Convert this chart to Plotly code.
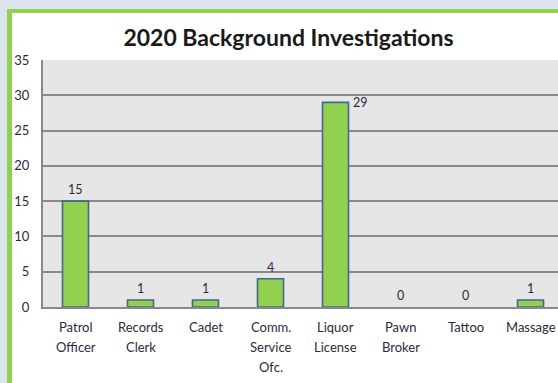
import plotly.graph_objects as go

# Data
categories = ["Patrol Officer", "Records Clerk", "Cadet", "Comm. Service Ofc.",
              "Liquor License", "Pawn Broker", "Tattoo", "Massage"]
category_lines = [["Patrol", "Officer"], ["Records", "Clerk"], ["Cadet"],
                  ["Comm.", "Service", "Ofc."], ["Liquor", "License"],
                  ["Pawn", "Broker"], ["Tattoo"], ["Massage"]]
counts = [15, 1, 1, 4, 29, 0, 0, 1]
y_ticks = [0, 5, 10, 15, 20, 25, 30, 35]

W, H = 558, 383
ML, MR, MT, MB = 43, 0, 60, 76
PW, PH = W - ML - MR, H - MT - MB
CAT_PX = 65  # pixel width of one category slot

BAR_GREEN = "#92d050"
BAR_EDGE = "#45668e"
FONT = "Lato"
TEXT = "#2b2b3a"


def px_x(px):
    return (px - ML) / PW


def px_y(py):
    return (H - MB - py) / PH


x_idx = list(range(len(categories)))

fig = go.Figure()
fig.add_trace(go.Bar(
    x=x_idx, y=counts,
    marker=dict(color=BAR_GREEN,
                line=dict(color=BAR_EDGE, width=[1.6 if v > 0 else 0 for v in counts])),
    hoverinfo="skip",
))

annotations = []
# value labels
for i, v in enumerate(counts):
    if v > 25:
        annotations.append(dict(x=i, y=v, xref="x", yref="y", text=str(v),
                                showarrow=False, xanchor="left", yanchor="middle",
                                xshift=15, font=dict(family=FONT, size=12.5, color=TEXT)))
    else:
        annotations.append(dict(x=i, y=v, xref="x", yref="y", text=str(v),
                                showarrow=False, xanchor="center", yanchor="bottom",
                                yshift=2, font=dict(family=FONT, size=12.5, color=TEXT)))
# category labels, one line each
for i, lines in enumerate(category_lines):
    for k, line in enumerate(lines):
        annotations.append(dict(x=i, y=0, xref="x", yref="y", text=line,
                                showarrow=False, xanchor="center", yanchor="middle",
                                yshift=-(20 + 20 * k),
                                font=dict(family=FONT, size=13, color=TEXT)))

shapes = [
    # outer light frame
    dict(type="rect", xref="paper", yref="paper", x0=px_x(0), x1=px_x(W),
         y0=px_y(9), y1=px_y(0), fillcolor="#dce4ee", line_width=0, layer="below"),
    dict(type="rect", xref="paper", yref="paper", x0=px_x(0), x1=px_x(7),
         y0=px_y(H), y1=px_y(0), fillcolor="#dce4ee", line_width=0, layer="below"),
    # green chart border
    dict(type="rect", xref="paper", yref="paper", x0=px_x(7), x1=px_x(W),
         y0=px_y(13), y1=px_y(9), fillcolor=BAR_GREEN, line_width=0, layer="below"),
    dict(type="rect", xref="paper", yref="paper", x0=px_x(7), x1=px_x(12),
         y0=px_y(H), y1=px_y(9), fillcolor=BAR_GREEN, line_width=0, layer="below"),
]

fig.update_layout(
    width=W, height=H,
    margin=dict(l=ML, r=MR, t=MT, b=MB, pad=0),
    paper_bgcolor="white",
    plot_bgcolor="#e6e6e6",
    bargap=0.6,
    showlegend=False,
    title=dict(text="<b>2020 Background Investigations</b>",
               x=288.5 / W, xanchor="center", xref="container",
               y=1 - 38 / H, yanchor="middle", yref="container",
               font=dict(family=FONT, size=23, color="#1a1a1a")),
    xaxis=dict(range=[-0.5, -0.5 + PW / CAT_PX], showticklabels=False,
               showgrid=False, zeroline=False, showline=True,
               linecolor="#8a8a8a", linewidth=2, fixedrange=True),
    yaxis=dict(range=[0, 35], tickvals=y_ticks, showgrid=True,
               gridcolor="#8a8a8a", gridwidth=1.8, zeroline=False,
               showline=True, linecolor="#8a8a8a", linewidth=2,
               ticklabelstandoff=9,
               tickfont=dict(family=FONT, size=13, color=TEXT)),
    annotations=annotations,
    shapes=shapes,
)

fig.write_html("out.html")
